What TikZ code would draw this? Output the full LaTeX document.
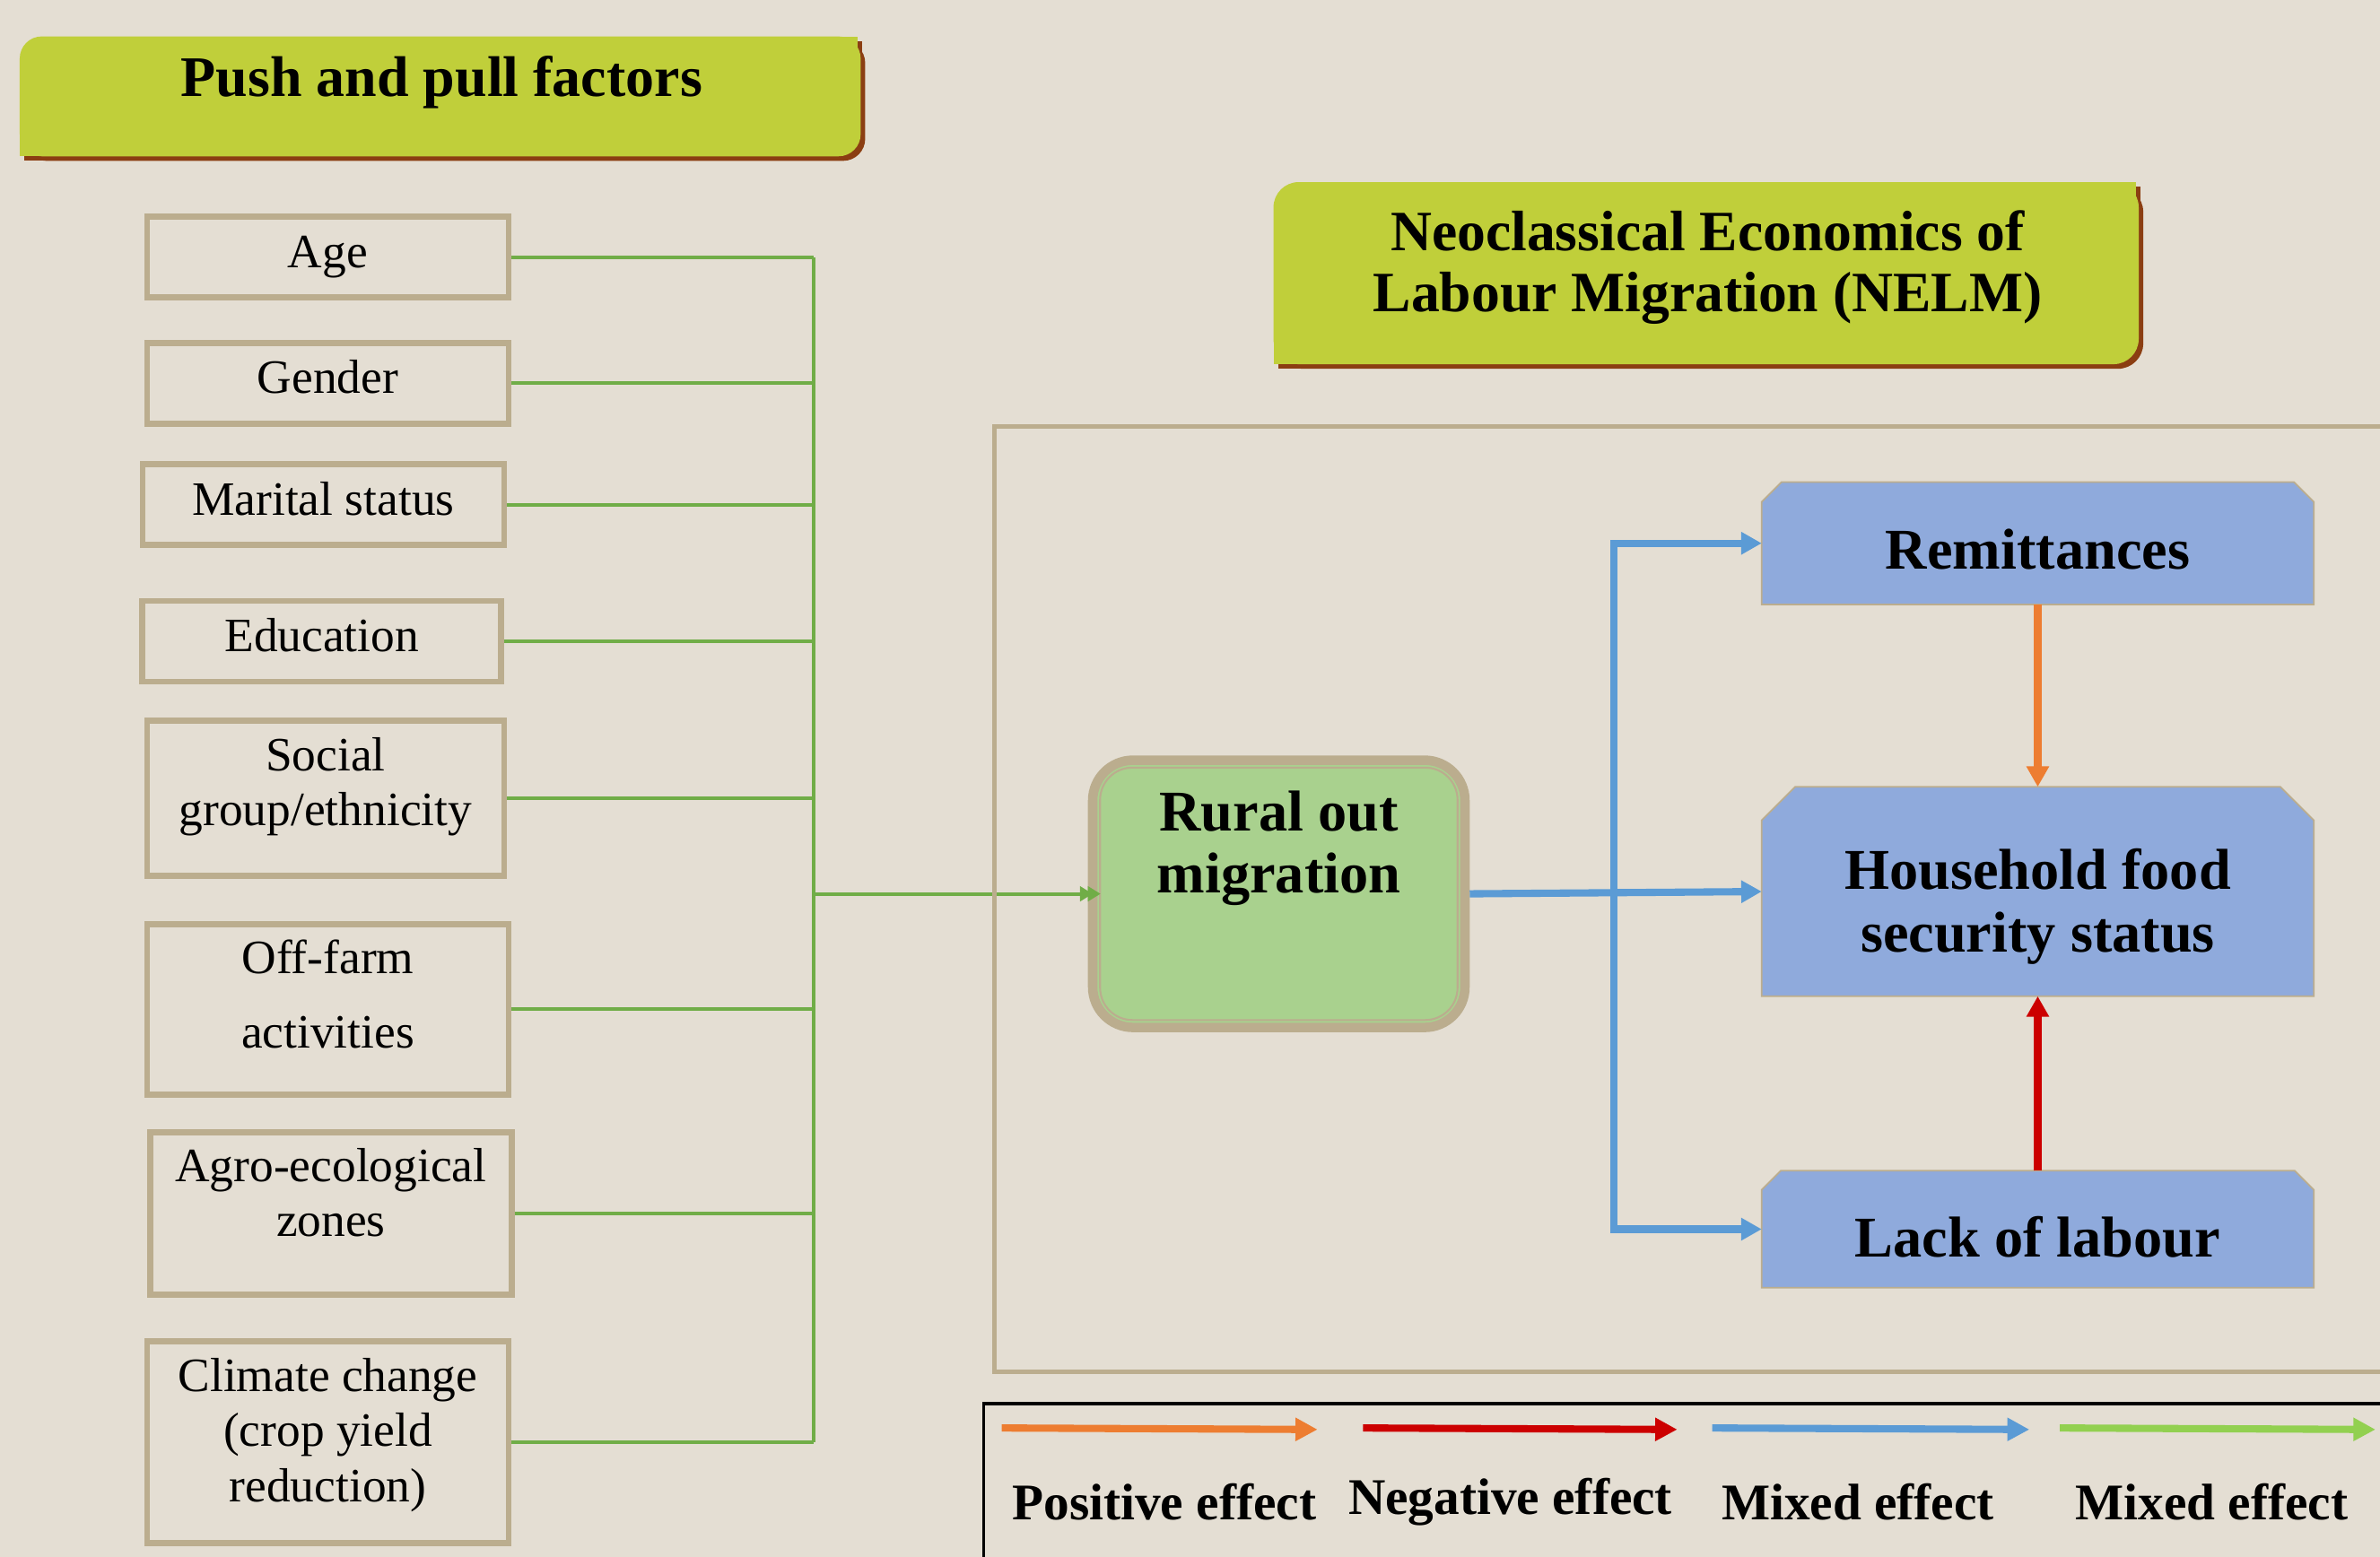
\documentclass[tikz,border=0pt]{standalone}
\usepackage{fontspec}
\setmainfont{Liberation Serif}
\usetikzlibrary{arrows.meta,backgrounds}

\definecolor{paper}{HTML}{E4DED3}
\definecolor{ctan}{HTML}{BBAD8E}
\definecolor{chdr}{HTML}{C0CF3A}
\definecolor{cshadow}{HTML}{8B3E12}
\definecolor{cgreen}{HTML}{70AD47}
\definecolor{cgreenlight}{HTML}{92D050}
\definecolor{crural}{HTML}{A9D18E}
\definecolor{cbluebox}{HTML}{8FAADC}
\definecolor{cblue}{HTML}{5B9BD5}
\definecolor{corange}{HTML}{ED7D31}
\definecolor{cred}{HTML}{CC0000}

\begin{document}
\begin{tikzpicture}[x=0.1692mm,y=-0.1692mm,
  factor/.style={draw=ctan, line width=1.9pt, minimum width=40.3mm},
  ftext/.style={align=center, font=\fontsize{15.2}{17.5}\selectfont},
  effectbox/.style={inner sep=0pt, minimum width=61.4mm},
  btext/.style={align=center, font=\bfseries\fontsize{18.3}{19.7}\selectfont},
  ruralbox/.style={draw=ctan, line width=3pt, fill=crural, rounded corners=4.5mm,
    minimum width=41.5mm, minimum height=29.8mm},
  legtext/.style={font=\bfseries\fontsize{16.3}{19}\selectfont},
  link/.style={draw=cgreen, line width=1.15pt},
  tip/.style={-{Triangle[length=6.5pt,width=6.8pt]}},
  mixarr/.style={draw=cblue, line width=2.3pt, tip},
  posarr/.style={draw=corange, line width=2.3pt, tip},
  negarr/.style={draw=cred, line width=2.3pt, tip},
  legarrow/.style={line width=2.3pt, -{Triangle[length=7pt,width=7pt]}}
]
  \begin{pgfonlayer}{background}
    \fill[paper] (0,0) rectangle (1568,1026);
  \end{pgfonlayer}
  \useasboundingbox (0,0) rectangle (1568,1026);

  % header: push and pull factors
  \fill[cshadow, rounded corners=7pt] (16,27) rectangle (570,106);
  \fill[cshadow] (16,66) rectangle (290,106);
  \fill[cshadow] (290,27) rectangle (568,66);
  \fill[chdr, rounded corners=7pt] (13,24) rectangle (567,103);
  \fill[chdr] (13,64) rectangle (290,103);
  \fill[chdr] (290,24) rectangle (565,64);
  \node[font=\bfseries\fontsize{18.2}{19.3}\selectfont] (pushhdr) at (291,54) {Push and pull factors};

  % header: NELM
  \fill[cshadow, rounded corners=8pt] (842,123) rectangle (1412,243);
  \fill[cshadow] (842,180) rectangle (1125,243);
  \fill[cshadow] (1125,123) rectangle (1410,180);
  \fill[chdr, rounded corners=8pt] (839,120) rectangle (1409,240);
  \fill[chdr] (839,180) rectangle (1125,240);
  \fill[chdr] (1125,120) rectangle (1407,180);
  \node[align=center, font=\bfseries\fontsize{18.1}{19.3}\selectfont] (nelmhdr) at (1125,176)
    {Neoclassical Economics of\\Labour Migration (NELM)};

  % push and pull factors
  \node[factor, minimum height=9mm, label={[ftext]center:Age}] (age) at (216,169.5) {};
  \node[factor, minimum height=9mm, label={[ftext, yshift=1.9pt]center:Gender}] (gender) at (216,252.5) {};
  \node[factor, minimum height=9mm, label={[ftext, yshift=1.9pt]center:Marital status}] (marital) at (213,332.5) {};
  \node[factor, minimum height=9mm, minimum width=40mm, label={[ftext, yshift=1.9pt]center:Education}] (edu) at (212,422.5) {};
  \node[factor, minimum height=17.3mm, minimum width=39.8mm, label={[ftext, yshift=3.6pt]center:{Social\\group/ethnicity}}] (social) at (214.5,526) {};
  \node[factor, minimum height=19mm, label={[ftext, yshift=4.8pt]center:{Off-farm\\[6pt]activities}}] (offfarm) at (216,665) {};
  \node[factor, minimum height=18.1mm, label={[ftext, yshift=6.5pt]center:{Agro-ecological\\zones}}] (agro) at (218,799.5) {};
  \node[factor, minimum height=22.5mm, label={[ftext, yshift=2.4pt]center:{Climate change\\(crop yield\\reduction)}}] (climate) at (216,950.5) {};

  % migration and its effects
  \node[ruralbox, label={[btext, yshift=14.5pt]center:{Rural out\\migration}}] (rural) at (842.5,589) {};
  \draw[ctan, line width=0.6pt, rounded corners=3.6mm] ([shift={(8,8)}]rural.north west) rectangle ([shift={(-8,-8)}]rural.south east);
  \node[effectbox, minimum height=13.5mm, label={[btext, yshift=-1.9pt]center:Remittances}] (remit) at (1342.5,358) {};
  \node[effectbox, minimum height=23.2mm, label={[btext, yshift=-4.8pt]center:{Household food\\security status}}] (hfs) at (1342.5,587.5) {};
  \node[effectbox, minimum height=12.9mm, label={[btext, yshift=-2.4pt]center:Lack of labour}] (lack) at (1342.5,810) {};
  \begin{pgfonlayer}{background}
    % blue boxes with cut top corners
    \foreach \b/\c in {remit/13, hfs/22, lack/12.6}
      \filldraw[fill=cbluebox, draw=ctan, line width=0.5pt]
        (\b.south west) -- ([shift={(0,\c)}]\b.north west) -- ([shift={(\c,0)}]\b.north west)
        -- ([shift={(-\c,0)}]\b.north east) -- ([shift={(0,\c)}]\b.north east) -- (\b.south east) -- cycle;
  \end{pgfonlayer}

  % green bus
  \coordinate (bus) at (536,589);
  \foreach \f in {age,gender,marital,edu,social,offfarm,agro,climate}
    \draw[link] (\f.east) -- (\f.east -| bus);
  \draw[link] (age.east -| bus) -- (climate.east -| bus);
  \draw[link, -{Triangle[length=4pt,width=4.6pt,sep=-1.5pt]Triangle[length=4pt,width=4.6pt]}] (bus) -- ([xshift=4]rural.west);

  % blue split
  \coordinate (split) at (1063,589);
  \draw[mixarr] (rural.east) -- (hfs.west);
  \draw[mixarr] (split) |- (remit.west);
  \draw[mixarr] (split) |- (lack.west);
  \draw[posarr] (remit.south) -- (hfs.north);
  \draw[negarr] (lack.north) -- (hfs.south);

  % frame round the NELM part
  \draw[ctan, line width=1.5pt] (655,281) rectangle (1600,904);

  % legend
  \draw[black, line width=1pt] (648,1040) -- (648,925) -- (1600,925);
  \foreach \c/\xa/\xb/\xl/\t/\n in {corange/660/868/767/Positive effect/pos,
      cred/898/1105/995/Negative effect/neg,
      cblue/1128/1337/1224/Mixed effect/mixa,
      cgreenlight/1357/1565/1457/Mixed effect/mixb} {
    \coordinate (\n a) at (\xa,941);
    \coordinate (\n b) at (\xb,942);
    \draw[legarrow, draw=\c, fill=\c] (\n a) -- (\n b);
    \node[legtext] (\n txt) at (\xl,990) {\t};
  }
\end{tikzpicture}
\end{document}
